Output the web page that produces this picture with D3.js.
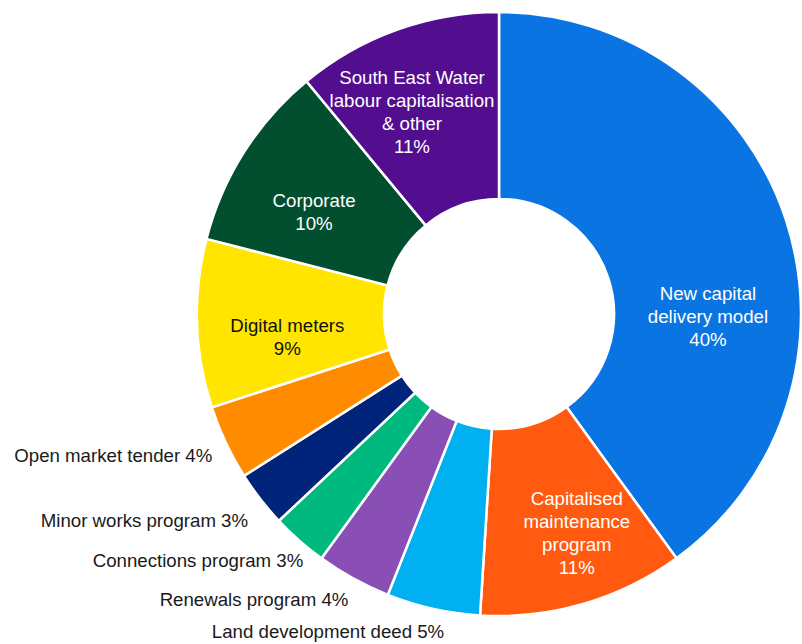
<!DOCTYPE html>
<html>
<head>
<meta charset="utf-8">
<script src="https://cdn.jsdelivr.net/npm/d3@7"></script>
<style>
  html, body { margin: 0; padding: 0; background: #fff; }
  svg { display: block; font-family: Arial, "Liberation Sans", sans-serif; }
</style>
</head>
<body>
<svg id="chart" width="802" height="644"></svg>
<script>
// Capital program breakdown, clockwise from 12 o'clock (per cent of total)
const categories = [
  "New capital delivery model",
  "Capitalised maintenance program",
  "Land development deed",
  "Renewals program",
  "Connections program",
  "Minor works program",
  "Open market tender",
  "Digital meters",
  "Corporate",
  "South East Water labour capitalisation & other"
];
const shares = [40, 11, 5, 4, 3, 3, 4, 9, 10, 11];

// Slice fills
const colors = [
  "#0a74e3", "#ff5a10", "#00b0f0", "#8a4fb5", "#00b97f",
  "#00247a", "#ff8c00", "#ffe500", "#024f2f", "#520e8e"
];

// Label lines drawn inside the larger slices
const innerLines = {
  0: ["New capital", "delivery model"],
  1: ["Capitalised", "maintenance", "program"],
  7: ["Digital meters"],
  8: ["Corporate"],
  9: ["South East Water", "labour capitalisation", "& other"]
};

// Label placement: angle (degrees clockwise from 12 o'clock) and distance from centre
const labelPlacement = [
  { a: 90.8,  r: 209,   inside: true,  fill: "#fff" },
  { a: 160.4, r: 232,   inside: true,  fill: "#fff" },
  { a: 189.8, r: 322,   inside: false, fill: "#1a1a1a" },
  { a: 207.8, r: 323,   inside: false, fill: "#1a1a1a" },
  { a: 218.5, r: 314.5, inside: false, fill: "#1a1a1a" },
  { a: 230.6, r: 324.7, inside: false, fill: "#1a1a1a" },
  { a: 243.8, r: 319.5, inside: false, fill: "#1a1a1a" },
  { a: 263.7, r: 213,   inside: true,  fill: "#111" },
  { a: 299.0, r: 211.5, inside: true,  fill: "#fff" },
  { a: 336.7, r: 220,   inside: true,  fill: "#fff" }
];

const cx = 499, cy = 314;
const outerR = 302, innerR = 115;
const fontSize = 18.67, lineH = 23;

const svg = d3.select("#chart");
const g = svg.append("g").attr("transform", `translate(${cx},${cy})`);

const data = categories.map((c, i) => ({ name: c, value: shares[i], i }));

const pie = d3.pie().value(d => d.value).sort(null);
const arc = d3.arc().innerRadius(innerR).outerRadius(outerR);

const arcs = pie(data);

g.selectAll("path.slice")
  .data(arcs)
  .join("path")
  .attr("class", "slice")
  .attr("d", arc)
  .attr("fill", d => colors[d.data.i])
  .attr("stroke", "#fff")
  .attr("stroke-width", 2.5)
  .attr("stroke-linejoin", "miter");

const pct = v => `${v}%`;

arcs.forEach(d => {
  const i = d.data.i;
  const p = labelPlacement[i];
  const rad = p.a * Math.PI / 180;
  const x = p.r * Math.sin(rad);
  const y = -p.r * Math.cos(rad);

  if (p.inside) {
    const lines = innerLines[i].concat([pct(d.data.value)]);
    const t = g.append("text")
      .attr("text-anchor", "middle")
      .attr("fill", p.fill)
      .attr("font-size", fontSize);
    const top = y - (lines.length - 1) * lineH / 2;
    lines.forEach((ln, k) => {
      t.append("tspan")
        .attr("x", x)
        .attr("y", top + k * lineH)
        .attr("dy", "0.35em")
        .text(ln);
    });
  } else {
    g.append("text")
      .attr("x", x)
      .attr("y", y)
      .attr("dy", "0.35em")
      .attr("text-anchor", "end")
      .attr("fill", p.fill)
      .attr("font-size", fontSize)
      .text(`${d.data.name} ${pct(d.data.value)}`);
  }
});
</script>
</body>
</html>
